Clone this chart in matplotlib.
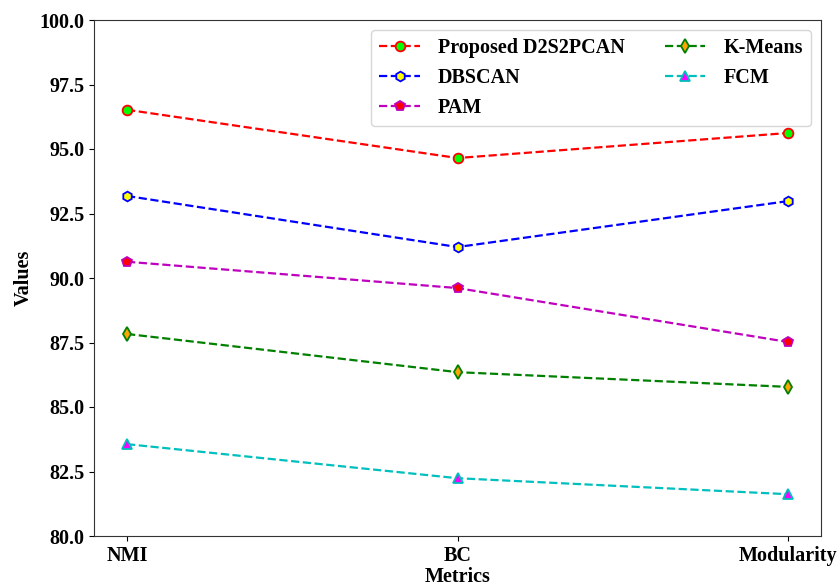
import matplotlib
matplotlib.use("Agg")
import matplotlib.pyplot as plt

plt.rcParams['font.family'] = ['Liberation Serif', 'DejaVu Serif']
plt.rcParams['font.weight'] = 'bold'

metrics = ["NMI", "BC", "Modularity"]
proposed = [96.52, 94.65, 95.62]
dbscan = [93.18, 91.20, 92.98]
pam = [90.63, 89.61, 87.52]
kmeans = [87.83, 86.35, 85.78]
fcm = [83.56, 82.24, 81.62]

series = [
    ("Proposed D2S2PCAN", proposed, 'r', 'o', 'lime', 'r'),
    ("DBSCAN", dbscan, 'b', 'h', 'yellow', 'b'),
    ("PAM", pam, 'm', 'p', 'red', 'm'),
    ("K-Means", kmeans, 'g', 'd', 'orange', 'g'),
    ("FCM", fcm, 'c', '^', 'magenta', 'c'),
]

fs = 14.5
fig = plt.figure(figsize=(8.38, 5.86), dpi=100)
ax = fig.add_axes([94/838, 1-536/586, (821-94)/838, (536-20)/586])
for name, vals, col, mk, fc, ec in series:
    ax.plot(metrics, vals, linestyle='--', color=col, marker=mk,
            markerfacecolor=fc, markeredgecolor=ec, markersize=7,
            markeredgewidth=1.3, linewidth=1.6, label=name)

ax.set_ylim(80, 100)
ax.set_yticks([80, 82.5, 85, 87.5, 90, 92.5, 95, 97.5, 100])
ax.set_yticklabels(["80.0", "82.5", "85.0", "87.5", "90.0", "92.5", "95.0", "97.5", "100.0"])
ax.tick_params(labelsize=fs)
for lab in ax.get_xticklabels() + ax.get_yticklabels():
    lab.set_fontweight('bold')
for sp in ax.spines.values():
    sp.set_color('#333333')
ax.set_xlabel("Metrics", fontsize=fs, fontweight='bold', labelpad=1)
ax.set_ylabel("Values", fontsize=fs, fontweight='bold')
ax.legend(loc='upper right', ncol=2, prop={'size': fs, 'weight': 'bold'},
          columnspacing=2.0, handletextpad=0.9)
fig.savefig("out.png", dpi=100)
